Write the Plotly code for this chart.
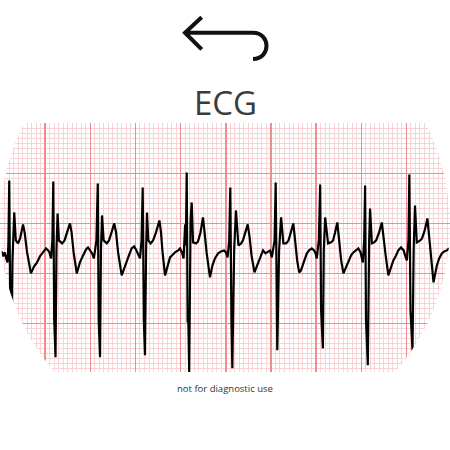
import plotly.graph_objects as go

# ECG trace: time in ms, amplitude in mV
ecg_t_ms = [
    7, 13, 20, 27, 33, 37, 41, 45, 50, 55, 63, 70, 80, 89, 95, 102, 109, 120, 137, 151,
    164, 177, 190, 204, 213, 219, 226, 232,
    236, 240, 246, 250, 255, 261, 275, 286, 297, 310, 317, 326, 340, 354, 368, 381, 390,
    399, 408, 416, 427,
    433, 437, 443, 447, 452, 459, 473, 483, 494, 506, 514, 523, 539, 549, 561, 571, 583,
    594, 602, 611, 620, 627,
    632, 637, 642, 647, 651, 657, 667, 678, 691, 706, 713, 720, 731, 742, 753, 766, 775,
    789, 797, 806, 813, 820, 823,
    827, 831, 834, 838, 844, 849, 855, 868, 877, 888, 899, 906, 915, 930, 941, 952, 966,
    979, 992, 1001, 1008, 1015,
    1020, 1025, 1029, 1037, 1045, 1056, 1068, 1076, 1088, 1097, 1105, 1114, 1127, 1143,
    1156, 1165, 1176, 1187, 1196, 1204, 1216,
    1221, 1225, 1228, 1236, 1245, 1255, 1267, 1278, 1289, 1299, 1307, 1316, 1325, 1333,
    1345, 1359, 1369, 1381, 1391, 1398, 1403, 1412,
    1418, 1422, 1430, 1434, 1440, 1453, 1466, 1475, 1484, 1494, 1502, 1511, 1521, 1533,
    1543, 1555, 1565, 1577, 1587, 1597, 1607, 1613,
    1617, 1621, 1629, 1635, 1639, 1647, 1657, 1666, 1679, 1691, 1699, 1708, 1720, 1732,
    1742, 1754, 1764, 1776, 1788, 1794, 1802, 1809,
    1813, 1818, 1827, 1832, 1838, 1846, 1861, 1869, 1881, 1893, 1900, 1909, 1920, 1935,
    1945, 1957, 1967, 1979, 1989,
]
ecg_mv = [
    -0.03, -0.08, -0.04, -0.10, -0.14, 0.03, 0.68, -0.52, -1.12, -0.14, 0.36, 0.08, 0.05,
    0.10, 0.16, 0.24, 0.16, -0.04, -0.25, -0.18, -0.14, -0.08, -0.04, 0.00, -0.02, -0.04,
    -0.10, 0.08,
    0.67, -0.72, -1.09, -0.02, 0.35, 0.08, 0.05, 0.08, 0.16, 0.25, 0.16, -0.04, -0.25,
    -0.14, -0.07, -0.01, 0.01, -0.02, -0.05, -0.10, 0.08,
    0.65, -0.72, -1.09, -0.02, 0.33, 0.08, 0.05, 0.08, 0.16, 0.25, 0.16, -0.04, -0.27,
    -0.20, -0.14, -0.07, 0.00, 0.02, -0.01, -0.05, -0.10, 0.08,
    0.61, -0.72, -1.07, -0.02, 0.36, 0.08, 0.05, 0.08, 0.16, 0.28, 0.16, -0.04, -0.27,
    -0.18, -0.09, -0.06, -0.04, -0.02, 0.00, -0.04, -0.10, 0.24, 0.03,
    0.76, -0.74, -0.72, -1.24, 0.28, 0.46, 0.06, 0.05, 0.07, 0.16, 0.31, 0.16, -0.04,
    -0.29, -0.17, -0.10, -0.05, -0.03, -0.02, -0.04, -0.09, 0.08,
    0.61, -0.72, -1.20, -0.02, 0.38, 0.03, 0.05, 0.08, 0.16, 0.24, 0.12, -0.07, -0.24,
    -0.14, -0.06, -0.02, -0.05, -0.03, -0.02, -0.09, 0.08,
    0.66, -0.62, -1.02, -0.02, 0.31, 0.05, 0.05, 0.08, 0.16, 0.25, 0.08, -0.12, -0.24,
    -0.22, -0.14, -0.05, -0.02, 0.00, -0.02, -0.05, -0.10, 0.08,
    0.64, -0.62, -1.00, -0.02, 0.31, 0.05, 0.06, 0.08, 0.16, 0.26, 0.08, -0.12, -0.25,
    -0.18, -0.12, -0.07, -0.04, -0.02, 0.00, -0.04, -0.14, 0.08,
    0.63, -0.72, -1.17, 0.08, 0.40, 0.05, 0.06, 0.08, 0.16, 0.26, 0.13, -0.07, -0.27,
    -0.18, -0.12, -0.07, -0.02, 0.01, -0.02, -0.07, -0.12, 0.08,
    0.74, -0.62, -1.02, -0.02, 0.43, 0.06, 0.08, 0.10, 0.18, 0.30, 0.13, -0.10, -0.34,
    -0.17, -0.10, -0.05, -0.03, -0.02, 0.00,
]

title_text = "ECG"
footer_text = "not for diagnostic use"

fig = go.Figure()
fig.add_trace(go.Scatter(
    x=ecg_t_ms, y=ecg_mv, mode="lines",
    line=dict(color="#000000", width=2.2),
    hoverinfo="skip", showlegend=False,
))

major_col = "#ef8c8c"
minor_col = "#f9d2d6"

fig.update_xaxes(
    range=[0, 1993], domain=[0, 1],
    showticklabels=False, ticks="", zeroline=False, showline=False,
    tick0=0, dtick=200, showgrid=True, gridcolor=major_col, gridwidth=1.5,
    minor=dict(tick0=0, dtick=20, showgrid=True, gridcolor=minor_col, gridwidth=1),
    fixedrange=True,
)
fig.update_yaxes(
    range=[-1.237, 1.252], domain=[0.1733, 0.726],
    showticklabels=False, ticks="", zeroline=False, showline=False,
    tick0=0.25, dtick=0.5, showgrid=True, gridcolor=major_col, gridwidth=1.5,
    minor=dict(tick0=0.05, dtick=0.05, showgrid=True, gridcolor=minor_col, gridwidth=1),
    fixedrange=True,
)

k = 0.27614
mask_path = (
    "M0,0 H1 V1 H0 Z "
    f"M0.5,0 C{0.5+k},0 1,{0.5-k} 1,0.5 C1,{0.5+k} {0.5+k},1 0.5,1 "
    f"C{0.5-k},1 0,{0.5+k} 0,0.5 C0,{0.5-k} {0.5-k},0 0.5,0 Z"
)

shapes = [
    dict(type="path", xref="paper", yref="paper", path=mask_path,
         fillcolor="white", fillrule="evenodd", line=dict(width=0), layer="above"),
    # back arrow icon
    dict(type="path", xref="paper", yref="paper",
         path=("M0.4482,0.9616 L0.4111,0.9273 L0.4482,0.8904 "
               "M0.4111,0.9273 L0.5622,0.9273 C0.6022,0.9273 0.6022,0.8689 0.5622,0.8689"),
         line=dict(color="#111111", width=4), layer="above"),
]

fig.update_layout(
    width=450, height=450,
    margin=dict(l=0, r=0, t=0, b=0),
    paper_bgcolor="white", plot_bgcolor="white",
    shapes=shapes,
    annotations=[
        dict(text=title_text, x=0.5, y=1 - 102 / 450, xref="paper", yref="paper",
             showarrow=False, xanchor="center", yanchor="middle",
             font=dict(family="Open Sans", size=33, color="#3c3c3c")),
        dict(text=footer_text, x=0.5, y=1 - 388 / 450, xref="paper", yref="paper",
             showarrow=False, xanchor="center", yanchor="middle",
             font=dict(family="Open Sans", size=9.5, color="#333333")),
    ],
)

fig.write_html("out.html", config={"displayModeBar": False, "staticPlot": True},
               post_script="document.body.style.margin='0';")
